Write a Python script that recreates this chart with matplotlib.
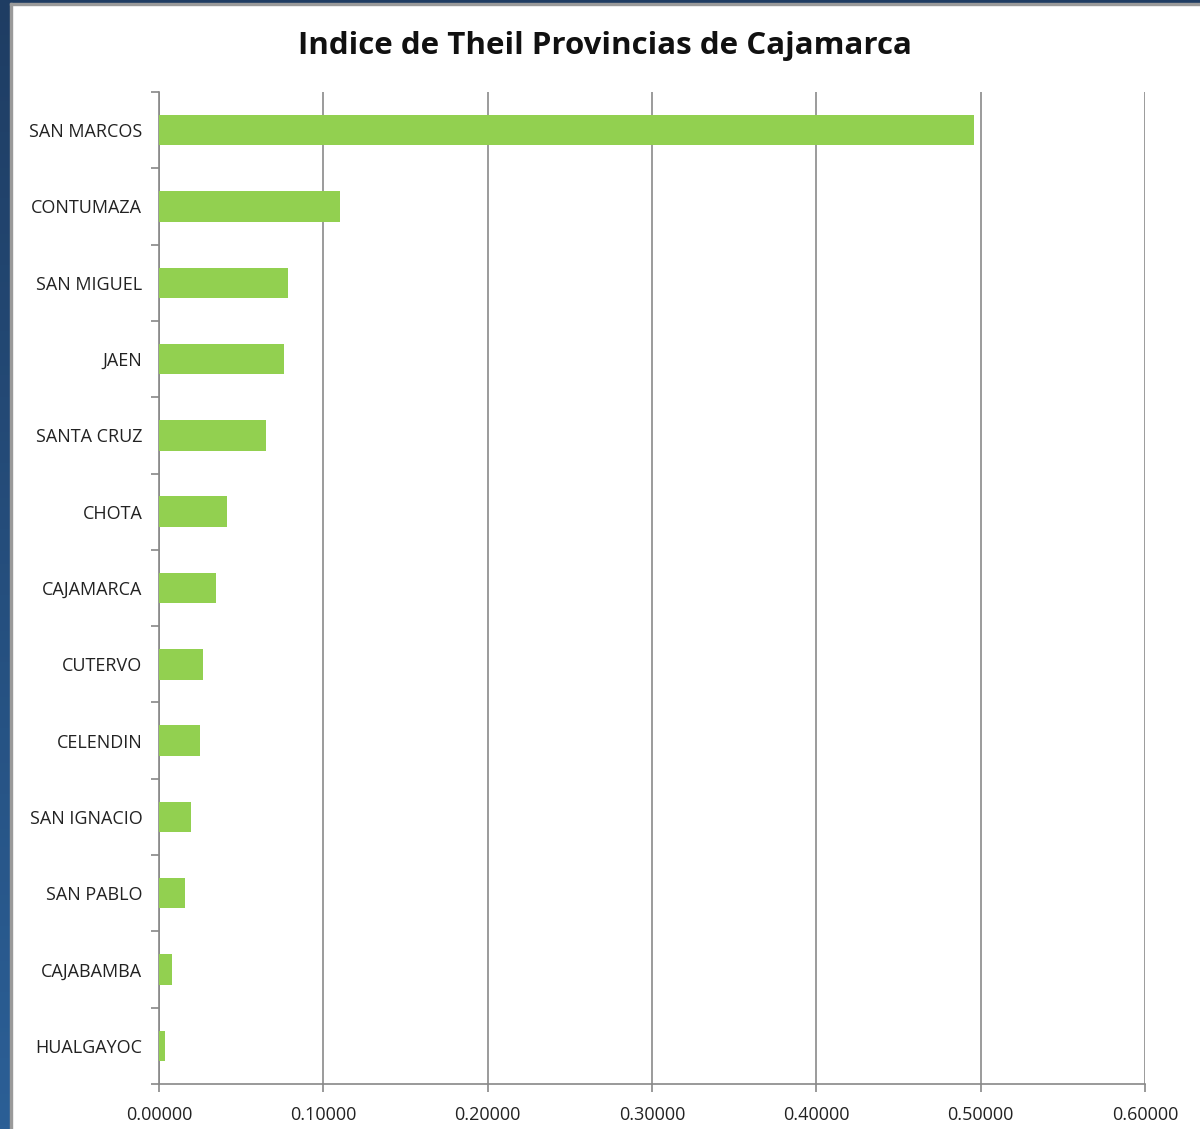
import matplotlib.pyplot as plt
from matplotlib.patches import Rectangle
import numpy as np

provincias = ['SAN MARCOS', 'CONTUMAZA', 'SAN MIGUEL', 'JAEN', 'SANTA CRUZ', 'CHOTA',
              'CAJAMARCA', 'CUTERVO', 'CELENDIN', 'SAN IGNACIO', 'SAN PABLO',
              'CAJABAMBA', 'HUALGAYOC']
theil = [0.496, 0.110, 0.0785, 0.076, 0.065, 0.0414,
         0.0347, 0.0268, 0.025, 0.0195, 0.0158, 0.0079, 0.0037]
x_ticks = [0.0, 0.1, 0.2, 0.3, 0.4, 0.5, 0.6]

plt.rcParams['font.family'] = ['Open Sans', 'DejaVu Sans']

fig = plt.figure(figsize=(12, 11.29), dpi=100)

# dark blue frame on the left and top edges
frame = fig.add_axes([0, 0, 1, 1], zorder=-5)
frame.axis('off')
grad = np.linspace(0, 1, 256).reshape(-1, 1)
frame.imshow(grad, extent=[0, 10 / 1200, 0, 1], aspect='auto',
             cmap=plt.matplotlib.colors.LinearSegmentedColormap.from_list(
                 'edge', ['#1f3d63', '#2b5f96']), transform=frame.transAxes)
frame.add_patch(Rectangle((0, 1 - 3 / 1129), 1, 3 / 1129, color='#1f3d63',
                          transform=frame.transAxes))
frame.add_patch(Rectangle((10 / 1200, 0), 2 / 1200, 1 - 3 / 1129, color='#9a9a9a',
                          transform=frame.transAxes))
frame.add_patch(Rectangle((10 / 1200, 1 - 5 / 1129), 1, 2 / 1129, color='#9a9a9a',
                          transform=frame.transAxes))
frame.set_xlim(0, 1)
frame.set_ylim(0, 1)

ax = fig.add_axes([159 / 1200, 1 - 1084 / 1129, 986 / 1200, 992 / 1129])
y = np.arange(len(provincias))
ax.barh(y, theil, height=0.4, color='#92D050', zorder=3)

ax.set_xlim(0, 0.6)
ax.set_ylim(len(provincias) - 0.5, -0.5)
ax.set_xticks(x_ticks)
ax.set_xticklabels(['{:.5f}'.format(v) for v in x_ticks], fontsize=13, color='#222222')
ax.set_yticks(y)
ax.set_yticklabels(provincias, fontsize=13, color='#222222')
ax.set_yticks(np.arange(len(provincias) + 1) - 0.5, minor=True)
ax.tick_params(axis='y', which='major', length=0, pad=12)
ax.tick_params(axis='y', which='minor', length=6, color='#888888', width=1.2)
ax.tick_params(axis='x', length=6, color='#888888', width=1.2, pad=10)

ax.grid(axis='x', color='#8a8a8a', linewidth=1.2, zorder=0)
for side in ['top', 'right']:
    ax.spines[side].set_visible(False)
for side in ['left', 'bottom']:
    ax.spines[side].set_color('#888888')
    ax.spines[side].set_linewidth(1.2)

fig.text(605 / 1200, 1 - 46 / 1129, 'Indice de Theil Provincias de Cajamarca',
         ha='center', va='center', fontsize=22.5, fontweight='bold', color='#111111')

fig.savefig('out.png', dpi=100)
